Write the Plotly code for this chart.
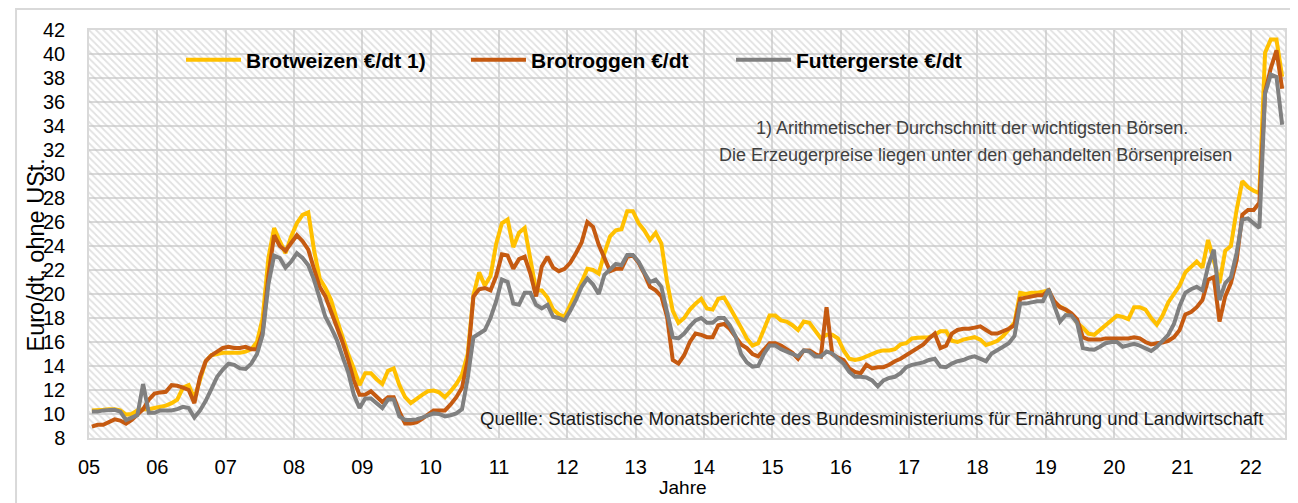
import plotly.graph_objects as go

# ---------------- data (monthly, Jan 2005 .. Jun 2022) ----------------
years = ["05", "06", "07", "08", "09", "10", "11", "12", "13", "14", "15",
         "16", "17", "18", "19", "20", "21", "22"]

brotweizen = [
    10.3, 10.3, 10.35, 10.4, 10.4, 10.3, 9.95, 10.0, 10.3, 10.4, 10.4, 10.5,
    10.6, 10.7, 10.9, 11.2, 12.2, 12.4, 11.3, 13.0, 14.4, 14.9, 15.0, 15.1,
    15.1, 15.1, 15.1, 15.2, 15.4, 16.0, 18.0, 23.0, 25.5, 24.4, 23.4, 24.8,
    25.9, 26.6, 26.8, 23.7, 21.3, 20.5, 19.5, 17.9, 16.4, 15.0, 13.8, 12.4,
    13.4, 13.4, 12.9, 12.5, 13.6, 13.8, 12.4, 11.4, 10.9, 11.3, 11.6, 11.9,
    11.95, 11.8, 11.4, 11.9, 12.5, 13.3, 15.0, 19.9, 21.8, 20.7, 21.5, 24.2,
    25.9, 26.2, 23.9, 25.1, 25.5, 22.9, 20.3, 20.3, 19.7, 18.7, 18.3, 18.1,
    19.2, 20.1, 21.0, 22.1, 22.0, 21.7, 23.4, 24.8, 25.3, 25.4, 26.9, 26.9,
    25.9, 25.3, 24.5, 25.1, 24.2, 21.0, 18.6, 17.6, 18.0, 18.7, 19.2, 19.6,
    18.8, 18.7, 19.6, 19.7, 18.9, 18.1, 17.2, 16.3, 15.7, 15.9, 17.1, 18.2,
    18.2, 17.8, 17.7, 17.4, 17.0, 17.7, 17.6, 17.0, 16.3, 16.6, 16.6, 16.3,
    15.3, 14.6, 14.5, 14.6, 14.8, 15.0, 15.2, 15.3, 15.3, 15.4, 15.8, 15.9,
    16.3, 16.35, 16.4, 16.4, 16.6, 16.9, 16.9, 16.1, 16.0, 16.2, 16.3, 16.4,
    16.2, 15.75, 15.9, 16.1, 16.5, 17.0, 17.6, 20.1, 20.0, 20.1, 20.1, 20.2,
    20.3, 19.2, 18.95, 18.7, 18.3, 17.6, 17.2, 16.7, 16.6, 17.0, 17.4, 17.8,
    18.2, 18.1, 17.9, 18.9, 18.9, 18.7, 18.0, 17.45, 18.2, 19.3, 20.0, 20.7,
    21.8, 22.3, 22.7, 22.2, 24.5, 22.8, 20.9, 23.6, 24.0, 27.0, 29.4, 28.9,
    28.6, 28.4, 40.1, 41.2, 41.2, 38.1,
]

brotroggen = [
    8.95, 9.1, 9.1, 9.3, 9.55, 9.45, 9.2, 9.5, 10.0, 10.4, 11.2, 11.7,
    11.8, 11.85, 12.4, 12.35, 12.2, 12.0, 10.9, 13.1, 14.4, 14.9, 15.2, 15.5,
    15.6, 15.5, 15.5, 15.6, 15.4, 15.4, 16.9, 21.5, 24.9, 24.0, 23.6, 24.3,
    24.9, 24.4, 23.7, 22.1, 20.6, 19.8, 18.6, 17.3, 16.0, 14.5, 12.8, 11.6,
    11.6, 11.9, 11.5, 11.0, 11.4, 11.4, 10.2, 9.2, 9.2, 9.3, 9.6, 10.0,
    10.3, 10.3, 10.3, 10.8, 11.4, 12.2, 14.5, 19.8, 20.4, 20.5, 20.3, 21.5,
    23.3, 23.2, 22.1, 22.9, 23.1, 21.7, 19.8, 22.3, 23.1, 22.2, 21.9, 22.1,
    22.6, 23.4, 24.3, 26.0, 25.6, 24.1, 23.0, 21.9, 22.1, 22.1, 23.1, 23.2,
    22.6, 21.7, 20.6, 20.3, 19.8, 18.1, 14.5, 14.2, 14.9, 16.0, 16.7, 16.6,
    16.4, 16.4, 17.4, 17.5, 17.1, 16.4, 15.8, 15.5, 15.0, 14.8, 15.4, 15.9,
    15.9, 15.7, 15.4, 15.1, 14.6, 15.3, 15.3, 15.0, 14.8, 18.9, 15.0, 14.7,
    14.5, 13.8, 13.5, 13.4, 14.1, 13.8, 13.9, 13.9, 14.1, 14.4, 14.6, 14.9,
    15.2, 15.5, 15.8, 16.3, 16.7, 15.5, 15.7, 16.7, 17.0, 17.1, 17.1, 17.2,
    17.3, 17.0, 16.7, 16.7, 16.9, 17.1, 17.4, 19.6, 19.7, 19.8, 19.9, 19.9,
    20.3, 19.4, 18.9, 18.7, 18.4, 17.9, 16.4, 16.2, 16.2, 16.2, 16.3, 16.3,
    16.3, 16.3, 16.3, 16.4, 16.3, 16.0, 15.8, 15.9, 15.95, 16.1, 16.4, 17.0,
    18.3, 18.5, 18.9, 19.5, 21.2, 21.4, 17.7, 19.8, 20.9, 22.8, 26.6, 27.0,
    27.0, 27.6, 36.8, 38.8, 40.3, 37.1,
]

futtergerste = [
    10.2, 10.2, 10.3, 10.35, 10.35, 10.2, 9.5, 9.7, 9.9, 12.5, 10.1, 10.1,
    10.3, 10.3, 10.3, 10.4, 10.6, 10.5, 9.7, 10.3, 11.1, 12.1, 13.1, 13.7,
    14.2, 14.1, 13.8, 13.75, 14.2, 15.0, 16.6, 20.8, 23.2, 23.0, 22.2, 22.7,
    23.4, 23.0, 22.4, 21.2, 19.6, 18.1, 17.2, 16.2, 14.8, 13.5, 11.6, 10.5,
    11.3, 11.3, 10.9, 10.5, 11.2, 11.2, 9.8, 9.5, 9.5, 9.55, 9.7, 9.85,
    10.05, 10.0, 9.8, 9.9, 10.05, 10.4, 13.0, 16.4, 16.7, 17.0, 18.0, 19.4,
    21.2, 21.0, 19.2, 19.1, 20.1, 20.1, 19.1, 18.8, 19.1, 18.1, 18.0, 17.8,
    18.6, 19.5, 20.6, 21.3, 20.8, 20.0, 21.6, 22.1, 22.5, 22.4, 23.25, 23.25,
    22.7, 21.8, 21.0, 21.2, 20.6, 18.5, 16.4, 16.3, 16.7, 17.3, 17.8, 18.0,
    17.6, 17.6, 18.0, 18.0, 17.4, 16.5, 15.0, 14.3, 13.95, 14.0, 15.0, 15.7,
    15.7, 15.4, 15.2, 15.0, 14.8, 15.3, 15.2, 14.8, 14.8, 15.2, 15.05, 14.6,
    14.2, 13.5, 13.1, 13.1, 13.05, 12.8, 12.3, 12.8, 13.0, 13.1, 13.4, 13.9,
    14.1, 14.2, 14.3, 14.5, 14.6, 13.95, 13.9, 14.2, 14.4, 14.5, 14.7, 14.8,
    14.6, 14.4, 15.05, 15.3, 15.6, 15.9, 16.5, 19.2, 19.2, 19.3, 19.4, 19.4,
    20.4, 19.0, 17.7, 18.25, 18.2, 17.6, 15.5, 15.4, 15.35, 15.6, 15.9, 16.0,
    16.0, 15.6, 15.75, 15.85, 15.7, 15.5, 15.25, 15.6, 16.1, 16.6, 17.5, 19.0,
    20.1, 20.4, 20.6, 20.3, 22.3, 23.7, 19.5, 20.9, 21.4, 23.4, 26.2, 26.3,
    25.9, 25.5, 36.7, 38.3, 38.1, 34.1,
]

series_names = ["Brotweizen €/dt 1)", "Brotroggen €/dt", "Futtergerste €/dt"]
series_colors = ["#FFC000", "#C55A11", "#808080"]

# ---------------- figure ----------------
months = list(range(len(brotweizen)))
X_MIN, X_MAX = -0.5, len(months) - 0.5
Y_MIN, Y_MAX = 8, 42
year_ticks = [12 * i - 0.5 for i in range(len(years))]

FONT = "Liberation Sans, Arial, sans-serif"
GRID = "#d9d9d9"

fig = go.Figure()

# hatched plot-area background
fig.add_trace(go.Scatter(
    x=[X_MIN, X_MAX, X_MAX, X_MIN, X_MIN],
    y=[Y_MIN, Y_MIN, Y_MAX, Y_MAX, Y_MIN],
    mode="lines", line=dict(width=0), fill="toself",
    fillcolor="rgba(0,0,0,0)",
    fillpattern=dict(shape="\\", fgcolor="#c4c4c4", bgcolor="rgba(0,0,0,0)",
                     size=5, solidity=0.35),
    hoverinfo="skip", showlegend=False,
))

legend_ids = ["legend", "legend2", "legend3"]
for vals, name, col, lg in zip([brotweizen, brotroggen, futtergerste],
                               series_names, series_colors, legend_ids):
    fig.add_trace(go.Scatter(
        x=months, y=vals, mode="lines", name=name,
        line=dict(color=col, width=4), legend=lg,
    ))

leg_common = dict(orientation="h", yanchor="middle", y=0.9265, xanchor="left",
                  bgcolor="rgba(0,0,0,0)", itemwidth=55,
                  font=dict(family=FONT, size=21, color="black", weight="bold"))

fig.update_layout(
    width=1290, height=495,
    margin=dict(l=81, r=13, t=22, b=65),
    paper_bgcolor="white", plot_bgcolor="white",
    font=dict(family=FONT, color="black"),
    legend=dict(x=0.0769, **leg_common),
    legend2=dict(x=0.3152, **leg_common),
    legend3=dict(x=0.5368, **leg_common),
    xaxis=dict(range=[X_MIN, X_MAX], tickmode="array", tickvals=year_ticks,
               ticktext=years, showgrid=True, gridcolor=GRID, gridwidth=1.5,
               zeroline=False, showline=True, linecolor=GRID, linewidth=1.5,
               mirror=True, ticks="", ticklabelstandoff=10,
               tickfont=dict(family=FONT, size=20, color="black")),
    yaxis=dict(range=[Y_MIN, Y_MAX], tick0=8, dtick=2, showgrid=True,
               gridcolor=GRID, gridwidth=1.5, zeroline=False, showline=True,
               linecolor=GRID, linewidth=1.5, mirror=True, ticks="",
               ticklabelstandoff=18,
               tickfont=dict(family=FONT, size=20, color="black")),
    shapes=[dict(type="rect", xref="paper", yref="paper",
                 x0=-0.061, x1=1.03, y0=-0.25, y1=1.0515,
                 line=dict(color=GRID, width=2), layer="below")],
    annotations=[
        dict(text="1) Arithmetischer Durchschnitt der wichtigsten Börsen.",
             xref="paper", yref="paper", x=0.7383, y=0.7598,
             xanchor="center", yanchor="middle", showarrow=False,
             font=dict(family=FONT, size=18, color="#404040")),
        dict(text="Die Erzeugerpreise liegen unter den gehandelten Börsenpreisen",
             xref="paper", yref="paper", x=0.7416, y=0.6936,
             xanchor="center", yanchor="middle", showarrow=False,
             font=dict(family=FONT, size=18, color="#404040")),
        dict(text="Quellle: Statistische Monatsberichte des Bundesministeriums für Ernährung und Landwirtschaft",
             xref="paper", yref="paper", x=0.6547, y=0.049,
             xanchor="center", yanchor="middle", showarrow=False,
             font=dict(family=FONT, size=18.6, color="#1a1a1a")),
        dict(text="Jahre", xref="paper", yref="paper", x=0.4967, y=-0.1201,
             xanchor="center", yanchor="middle", showarrow=False,
             font=dict(family=FONT, size=19, color="black")),
        dict(text="Euro/dt, ohne USt.", xref="paper", yref="paper",
             x=-0.0435, y=0.4498, textangle=-90,
             xanchor="center", yanchor="middle", showarrow=False,
             font=dict(family=FONT, size=23.5, color="black")),
    ],
)

fig.write_html("out.html")
